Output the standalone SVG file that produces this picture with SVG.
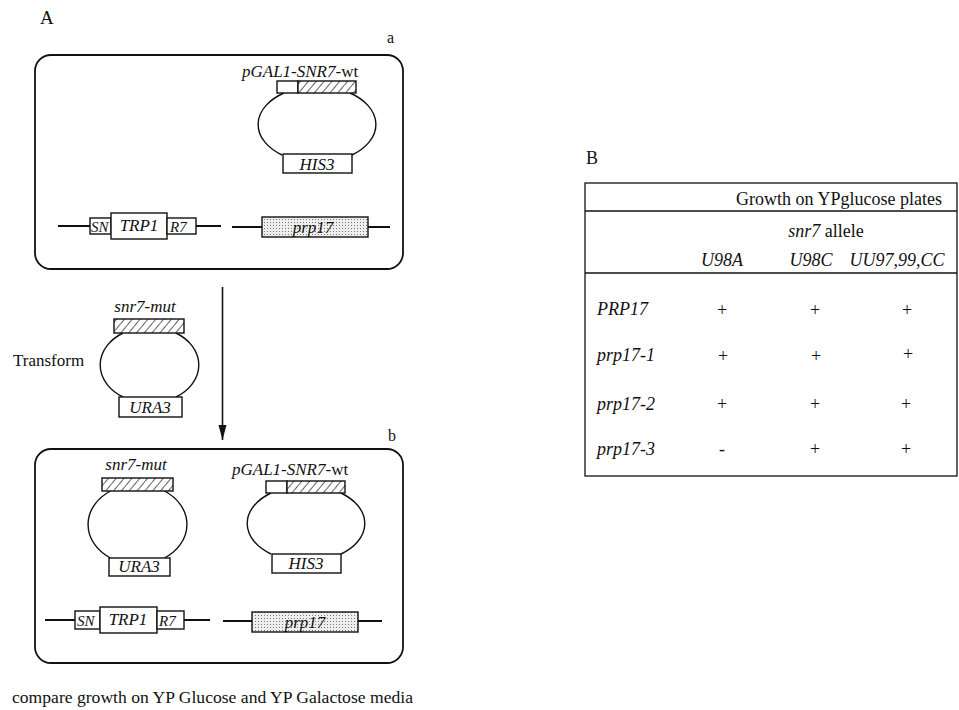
<svg xmlns="http://www.w3.org/2000/svg" width="959" height="710" viewBox="0 0 959 710">
<style>
  text { font-family: "Liberation Serif", "Times New Roman", serif; fill: #111; }
  .it { font-style: italic; }
  .lbl { font-size: 17px; }
  .tb { font-size: 18px; }
  .box { fill: none; stroke: #111; stroke-width: 1.8; }
  .plas { fill: none; stroke: #111; stroke-width: 1.4; }
  .rw { fill: #fff; stroke: #111; stroke-width: 1.4; }
  .rh { fill: url(#hatch); stroke: #111; stroke-width: 1.4; }
  .rs { fill: url(#stip); stroke: #111; stroke-width: 1.4; }
  .chr { stroke: #111; stroke-width: 2; fill: none; }
  .tl { stroke: #111; stroke-width: 1.3; fill: none; }
</style>
<defs>
  <pattern id="hatch" width="6" height="6" patternUnits="userSpaceOnUse" patternTransform="rotate(40)">
    <rect width="6" height="6" fill="#fff"/>
    <line x1="0" y1="0" x2="0" y2="6" stroke="#111" stroke-width="1.3"/>
  </pattern>
  <pattern id="stip" width="3" height="3" patternUnits="userSpaceOnUse">
    <rect width="3" height="3" fill="#eeeeee"/>
    <rect x="0" y="0" width="1" height="1" fill="#777"/>
  </pattern>
  <marker id="arr" markerWidth="16" markerHeight="10" refX="15" refY="5" orient="auto" markerUnits="userSpaceOnUse" viewBox="0 0 16 10">
    <path d="M0,1 L15,5 L0,9 Z" fill="#111"/>
  </marker>
</defs>

<text x="40" y="24" font-size="19">A</text>
<text x="586" y="164" font-size="18">B</text>

<!-- Panel a -->
<g id="panel-a">
  <text x="387" y="43" font-size="16">a</text>
  <rect class="box" x="35" y="55" width="368" height="214" rx="16"/>
</g>
<g id="plasmid-a-wt">
  <text x="242" y="77" class="lbl"><tspan class="it">pGAL1-SNR7</tspan>-wt</text>
  <path class="plas" d="M284,93 A59,38 0 0 0 282,155 M350,93 A59,38 0 0 1 352,155"/>
  <rect class="rw" x="277" y="81" width="21" height="12"/>
  <rect class="rh" x="298" y="81" width="58" height="12"/>
  <rect class="rw" x="283" y="154" width="69" height="19"/>
  <text x="317" y="170" class="lbl it" text-anchor="middle">HIS3</text>
</g>
<g id="chrom-a-trp">
  <line class="chr" x1="58" y1="226" x2="90" y2="226"/>
  <line class="chr" x1="196" y1="226" x2="221" y2="226"/>
  <rect class="rw" x="90" y="218" width="21" height="16"/>
  <rect class="rw" x="111" y="213" width="56" height="26"/>
  <rect class="rw" x="167" y="218" width="29" height="16"/>
  <text x="91" y="232" font-size="15" class="it">SN</text>
  <text x="139" y="231" class="lbl it" text-anchor="middle">TRP1</text>
  <text x="170" y="232" font-size="15" class="it">R7</text>
</g>
<g id="chrom-a-prp17">
  <line class="chr" x1="232" y1="227" x2="262" y2="227"/>
  <line class="chr" x1="368" y1="227" x2="390" y2="227"/>
  <rect class="rs" x="262" y="217" width="106" height="20"/>
  <text x="313" y="233" class="lbl it" text-anchor="middle">prp17</text>
</g>

<!-- Transform -->
<g id="transform">
  <text x="13" y="366" class="lbl">Transform</text>
</g>
<g id="plasmid-mut">
  <text x="145" y="312" class="lbl it" text-anchor="middle">snr7-mut</text>
  <path class="plas" d="M123,333 A49.5,38 0 0 0 123,397 M176,333 A49.5,38 0 0 1 176,397"/>
  <rect class="rh" x="114" y="319" width="70" height="14"/>
  <rect class="rw" x="119" y="397" width="63" height="20"/>
  <text x="150" y="413" class="lbl it" text-anchor="middle">URA3</text>
</g>

<g id="connectors">
  <line x1="222.5" y1="287" x2="222.5" y2="440" stroke="#111" stroke-width="1.6" marker-end="url(#arr)"/>
</g>

<!-- Panel b -->
<g id="panel-b">
  <text x="388" y="441" font-size="16">b</text>
  <rect class="box" x="35" y="449" width="368" height="214" rx="16"/>
</g>
<g id="plasmid-b-mut">
  <text x="136" y="470" class="lbl it" text-anchor="middle">snr7-mut</text>
  <path class="plas" d="M110.5,491 A49.5,40 0 0 0 110.5,558 M164.5,491 A49.5,40 0 0 1 164.5,558"/>
  <rect class="rh" x="102" y="478" width="71" height="13"/>
  <rect class="rw" x="109" y="558" width="61" height="18"/>
  <text x="139" y="572" class="lbl it" text-anchor="middle">URA3</text>
</g>
<g id="plasmid-b-wt">
  <text x="232" y="475" class="lbl"><tspan class="it">pGAL1-SNR7</tspan>-wt</text>
  <path class="plas" d="M271,493 A59,38 0 0 0 271,554 M341,493 A59,38 0 0 1 341,554"/>
  <rect class="rw" x="266" y="481" width="21" height="12"/>
  <rect class="rh" x="287" y="481" width="58" height="12"/>
  <rect class="rw" x="272" y="554" width="69" height="19"/>
  <text x="306" y="569" class="lbl it" text-anchor="middle">HIS3</text>
</g>
<g id="chrom-b-trp">
  <line class="chr" x1="45" y1="620" x2="75" y2="620"/>
  <line class="chr" x1="184" y1="620" x2="210" y2="620"/>
  <rect class="rw" x="75" y="611" width="25" height="18"/>
  <rect class="rw" x="100" y="607" width="57" height="26"/>
  <rect class="rw" x="157" y="611" width="27" height="18"/>
  <text x="77" y="626" font-size="15" class="it">SN</text>
  <text x="128" y="625" class="lbl it" text-anchor="middle">TRP1</text>
  <text x="159" y="626" font-size="15" class="it">R7</text>
</g>
<g id="chrom-b-prp17">
  <line class="chr" x1="223" y1="621" x2="252" y2="621"/>
  <line class="chr" x1="358" y1="621" x2="382" y2="621"/>
  <rect class="rs" x="252" y="612" width="106" height="20"/>
  <text x="305" y="628" class="lbl it" text-anchor="middle">prp17</text>
</g>

<g id="caption">
  <text x="12" y="703" font-size="17.6">compare growth on YP Glucose and YP Galactose media</text>
</g>

<!-- Table B -->
<g id="table">
  <rect class="tl" x="585" y="183" width="372" height="293"/>
  <line class="tl" x1="585" y1="211" x2="957" y2="211"/>
  <line class="tl" x1="585" y1="273" x2="957" y2="273"/>
  <text x="839" y="205" class="tb" text-anchor="middle">Growth on YPglucose plates</text>
  <text x="826" y="237" class="tb" text-anchor="middle"><tspan class="it">snr7</tspan> allele</text>
  <text x="722" y="266" class="tb it" text-anchor="middle">U98A</text>
  <text x="811" y="266" class="tb it" text-anchor="middle">U98C</text>
  <text x="897" y="266" class="tb it" text-anchor="middle">UU97,99,CC</text>
  <text x="597" y="315" class="tb it">PRP17</text>
  <text x="597" y="361" class="tb it">prp17-1</text>
  <text x="597" y="410" class="tb it">prp17-2</text>
  <text x="597" y="455" class="tb it">prp17-3</text>
  <g class="tb" text-anchor="middle">
    <text x="722" y="316">+</text><text x="815" y="316">+</text><text x="907" y="316">+</text>
    <text x="723" y="362">+</text><text x="816" y="362">+</text><text x="908" y="360">+</text>
    <text x="722" y="410">+</text><text x="815" y="410">+</text><text x="906" y="410">+</text>
    <text x="722" y="455">-</text><text x="815" y="455">+</text><text x="906" y="455">+</text>
  </g>
</g>
</svg>
